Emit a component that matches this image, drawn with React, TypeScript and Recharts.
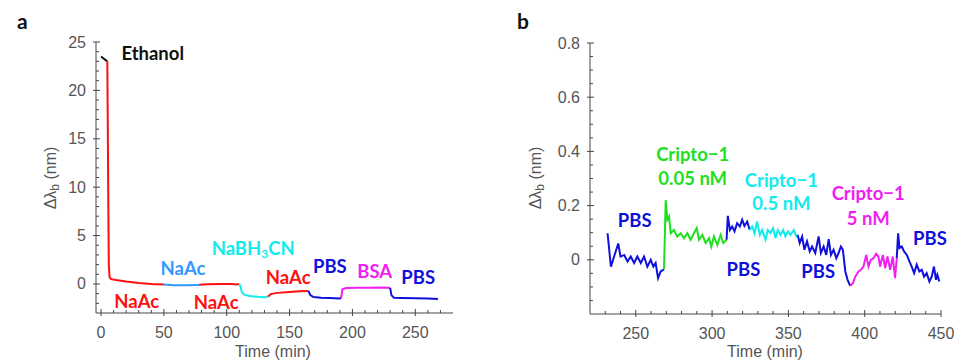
import React from 'react';
import { LineChart, Line, XAxis, YAxis, ReferenceDot } from 'recharts';

type Pt = { t: number; v: number };

// ---- panel a: functionalisation steps ----
const ethanol: Pt[] = [
  { t: 0, v: 23.5 }, { t: 2, v: 23.3 }, { t: 5, v: 23.0 },
];
const naAc1: Pt[] = [
  { t: 5, v: 23.0 }, { t: 5.4, v: 16 }, { t: 5.8, v: 8 }, { t: 6.2, v: 2 },
  { t: 6.8, v: 0.7 }, { t: 8, v: 0.5 }, { t: 12, v: 0.4 }, { t: 20, v: 0.25 },
  { t: 30, v: 0.1 }, { t: 40, v: 0.0 }, { t: 50, v: -0.05 },
];
const naAc2: Pt[] = [
  { t: 50, v: -0.05 }, { t: 58, v: -0.12 }, { t: 68, v: -0.13 }, { t: 78, v: -0.1 },
];
const naAc3: Pt[] = [
  { t: 78, v: -0.08 }, { t: 85, v: -0.02 }, { t: 95, v: 0.0 }, { t: 104, v: 0.0 },
  { t: 108, v: -0.06 }, { t: 110, v: 0.0 },
];
const naBH3CN: Pt[] = [
  { t: 110, v: 0.0 }, { t: 111, v: -0.3 }, { t: 112, v: -0.85 }, { t: 114, v: -1.1 },
  { t: 118, v: -1.25 }, { t: 125, v: -1.33 }, { t: 130, v: -1.36 }, { t: 133, v: -1.3 },
];
const naAc4: Pt[] = [
  { t: 133, v: -1.3 }, { t: 135, v: -1.05 }, { t: 140, v: -0.92 }, { t: 150, v: -0.82 },
  { t: 158, v: -0.76 }, { t: 165, v: -0.72 },
];
const pbsA1: Pt[] = [
  { t: 165, v: -0.72 }, { t: 166.5, v: -1.15 }, { t: 169, v: -1.35 }, { t: 175, v: -1.42 },
  { t: 182, v: -1.45 }, { t: 190, v: -1.5 }, { t: 191, v: -1.45 },
];
const bsa: Pt[] = [
  { t: 191, v: -1.45 }, { t: 192, v: -0.55 }, { t: 195, v: -0.42 }, { t: 205, v: -0.4 },
  { t: 215, v: -0.38 }, { t: 222, v: -0.36 }, { t: 230, v: -0.4 },
];
const pbsA2: Pt[] = [
  { t: 230, v: -0.4 }, { t: 231, v: -1.15 }, { t: 233, v: -1.42 }, { t: 240, v: -1.45 },
  { t: 250, v: -1.48 }, { t: 260, v: -1.5 }, { t: 268, v: -1.55 },
];

// ---- panel b: Cripto-1 detection ----
const pbsB1: Pt[] = [
  { t: 231.5, v: 0.098 }, { t: 233.7, v: -0.025 }, { t: 235.8, v: 0.012 }, { t: 238.5, v: 0.06 },
  { t: 240, v: 0.012 }, { t: 242.4, v: 0.018 }, { t: 244.6, v: -0.006 }, { t: 246.7, v: 0.012 },
  { t: 248.9, v: -0.012 }, { t: 251, v: 0.012 }, { t: 253.3, v: -0.012 }, { t: 255.4, v: 0.012 },
  { t: 257.6, v: -0.025 }, { t: 259.8, v: 0 }, { t: 261.5, v: -0.025 }, { t: 263, v: -0.012 },
  { t: 264.6, v: -0.068 }, { t: 266.3, v: -0.043 }, { t: 268.5, v: -0.035 },
];
const cripto005: Pt[] = [
  { t: 268.5, v: -0.035 }, { t: 269.6, v: 0.22 }, { t: 270.7, v: 0.148 }, { t: 271.8, v: 0.16 },
  { t: 272.9, v: 0.098 }, { t: 275, v: 0.11 }, { t: 277.2, v: 0.086 }, { t: 279.4, v: 0.098 },
  { t: 281.6, v: 0.08 }, { t: 283.8, v: 0.098 }, { t: 286, v: 0.074 }, { t: 288.1, v: 0.098 },
  { t: 289.9, v: 0.117 }, { t: 291.4, v: 0.074 }, { t: 293.6, v: 0.092 }, { t: 295.8, v: 0.062 },
  { t: 298, v: 0.08 }, { t: 299.5, v: 0.049 }, { t: 301.2, v: 0.086 }, { t: 303.4, v: 0.055 },
  { t: 305.6, v: 0.092 }, { t: 307.3, v: 0.062 }, { t: 309.5, v: 0.074 },
];
const pbsB2: Pt[] = [
  { t: 309.5, v: 0.074 }, { t: 310.3, v: 0.162 }, { t: 311.7, v: 0.11 }, { t: 313.2, v: 0.123 },
  { t: 314.7, v: 0.105 }, { t: 316.4, v: 0.135 }, { t: 318.2, v: 0.123 }, { t: 319.7, v: 0.148 },
  { t: 321.2, v: 0.125 }, { t: 323, v: 0.141 }, { t: 324.7, v: 0.11 },
];
const cripto05: Pt[] = [
  { t: 324.7, v: 0.11 }, { t: 326.3, v: 0.123 }, { t: 327.8, v: 0.098 }, { t: 329.5, v: 0.141 },
  { t: 331.3, v: 0.092 }, { t: 332.8, v: 0.11 }, { t: 335, v: 0.074 }, { t: 336.5, v: 0.11 },
  { t: 338.2, v: 0.098 }, { t: 340, v: 0.117 }, { t: 341.5, v: 0.08 }, { t: 343, v: 0.11 },
  { t: 344.8, v: 0.092 }, { t: 346.5, v: 0.11 }, { t: 348, v: 0.086 }, { t: 349.6, v: 0.105 },
  { t: 351.3, v: 0.092 }, { t: 353.5, v: 0.11 }, { t: 355.2, v: 0.086 }, { t: 356.1, v: 0.092 },
];
const pbsB3: Pt[] = [
  { t: 356.1, v: 0.092 }, { t: 357.4, v: 0.062 }, { t: 359, v: 0.086 }, { t: 360.5, v: 0.037 },
  { t: 362.2, v: 0.068 }, { t: 364, v: 0.031 }, { t: 365.5, v: 0.049 }, { t: 367.6, v: 0.025 },
  { t: 369.8, v: 0.086 }, { t: 371.3, v: 0.025 }, { t: 373.1, v: 0.049 }, { t: 374.8, v: 0.018 },
  { t: 376.4, v: 0.076 }, { t: 377.9, v: 0.018 }, { t: 379.6, v: 0.037 }, { t: 381.4, v: 0.006 },
  { t: 382.9, v: 0.025 }, { t: 384.4, v: 0.049 }, { t: 385.7, v: 0.037 }, { t: 387.3, v: -0.043 },
  { t: 388.8, v: -0.074 }, { t: 390.5, v: -0.096 },
];
const cripto5: Pt[] = [
  { t: 390.5, v: -0.096 }, { t: 392.3, v: -0.086 }, { t: 393.8, v: -0.062 }, { t: 396, v: -0.043 },
  { t: 397.5, v: -0.037 }, { t: 399.2, v: -0.025 }, { t: 401, v: 0.018 }, { t: 402.5, v: -0.025 },
  { t: 404, v: 0 }, { t: 405.8, v: 0.006 }, { t: 407.5, v: 0.022 }, { t: 409, v: 0.012 },
  { t: 410.1, v: -0.025 }, { t: 411.9, v: 0.018 }, { t: 413.4, v: -0.031 }, { t: 414.9, v: 0.012 },
  { t: 416.7, v: -0.037 }, { t: 418.4, v: 0.012 }, { t: 419.9, v: -0.068 }, { t: 421, v: 0.006 },
];
const pbsB4: Pt[] = [
  { t: 421, v: 0.006 }, { t: 421.9, v: 0.098 }, { t: 422.8, v: 0.043 }, { t: 424.3, v: 0.049 },
  { t: 425.8, v: 0.031 }, { t: 427.6, v: 0.018 }, { t: 429.3, v: -0.006 }, { t: 430.8, v: -0.025 },
  { t: 432.4, v: -0.049 }, { t: 434.1, v: -0.018 }, { t: 435.8, v: -0.043 }, { t: 437.4, v: -0.037 },
  { t: 438.9, v: -0.062 }, { t: 440.6, v: -0.049 }, { t: 442.4, v: -0.08 }, { t: 443.9, v: -0.062 },
  { t: 445.4, v: -0.025 }, { t: 446.7, v: -0.074 }, { t: 447.6, v: -0.055 }, { t: 448.9, v: -0.08 },
];

// ---- ticks ----
const aXTicks = [0, 10, 20, 30, 40, 50, 60, 70, 80, 90, 100, 110, 120, 130, 140, 150, 160, 170, 180, 190, 200, 210, 220, 230, 240, 250, 260, 270];
const aXMajor = [0, 50, 100, 150, 200, 250];
const aYTicks = [-2, -1, 0, 1, 2, 3, 4, 5, 6, 7, 8, 9, 10, 11, 12, 13, 14, 15, 16, 17, 18, 19, 20, 21, 22, 23, 24, 25];
const aYMajor = [0, 5, 10, 15, 20, 25];
const bXTicks = [230, 240, 250, 260, 270, 280, 290, 300, 310, 320, 330, 340, 350, 360, 370, 380, 390, 400, 410, 420, 430, 440, 450];
const bXMajor = [250, 300, 350, 400, 450];
const bYTicks = [-0.15, -0.1, -0.05, 0, 0.05, 0.1, 0.15, 0.2, 0.25, 0.3, 0.35, 0.4, 0.45, 0.5, 0.55, 0.6, 0.65, 0.7, 0.75, 0.8];
const bYMajor = [-0.2, 0, 0.2, 0.4, 0.6, 0.8];

const RED = '#ff1010';
const LBLUE = '#3399ff';
const CYAN = '#10ecec';
const BLUE = '#1010dd';
const MAGENTA = '#f020f0';
const GREEN = '#1ee01e';
const AXIS = '#444';
const TICK_TEXT = '#555';

type Note = { t: number; v: number; text: string; color: string; anchor?: 'start' | 'middle' };

const notesA: Note[] = [
  { t: 16.2, v: 23.9, text: 'Ethanol', color: '#111' },
  { t: 10.6, v: -1.76, text: 'NaAc', color: RED },
  { t: 47.3, v: 1.65, text: 'NaAc', color: LBLUE },
  { t: 73.7, v: -1.86, text: 'NaAc', color: RED },
  { t: 88, v: 3.72, text: 'NaBH3CN', color: CYAN },
  { t: 131, v: 0.72, text: 'NaAc', color: RED },
  { t: 168.6, v: 1.86, text: 'PBS', color: BLUE },
  { t: 203.8, v: 1.34, text: 'BSA', color: MAGENTA },
  { t: 238.9, v: 0.72, text: 'PBS', color: BLUE },
];

const notesB: Note[] = [
  { t: 238.2, v: 0.148, text: 'PBS', color: BLUE },
  { t: 287.3, v: 0.391, text: 'Cripto\u22121', color: GREEN, anchor: 'middle' },
  { t: 287.3, v: 0.303, text: '0.05 nM', color: GREEN, anchor: 'middle' },
  { t: 345.4, v: 0.295, text: 'Cripto\u22121', color: CYAN, anchor: 'middle' },
  { t: 345.4, v: 0.21, text: '0.5 nM', color: CYAN, anchor: 'middle' },
  { t: 402.3, v: 0.247, text: 'Cripto\u22121', color: MAGENTA, anchor: 'middle' },
  { t: 402.3, v: 0.155, text: '5 nM', color: MAGENTA, anchor: 'middle' },
  { t: 309.5, v: -0.033, text: 'PBS', color: BLUE },
  { t: 358.5, v: -0.041, text: 'PBS', color: BLUE },
  { t: 431.7, v: 0.081, text: 'PBS', color: BLUE },
];

const isMajor = (list: number[], v: number) => list.some((m) => Math.abs(m - v) < 1e-6);
const fmt = (v: number) => String(Math.round(v * 10) / 10);

const YTick = (props: any) => {
  const { x, y, payload, majors } = props;
  const major = isMajor(majors, payload.value);
  return (
    <g>
      <line x1={major ? x - 3 : x} x2={x + (major ? 4 : 3)} y1={y} y2={y} stroke={AXIS} strokeWidth={1} />
      {major && (
        <text x={x - 10} y={y} textAnchor="end" dominantBaseline="central" fill={TICK_TEXT}
          fontSize={16} fontFamily="'Liberation Sans', Arial, sans-serif">
          {fmt(payload.value)}
        </text>
      )}
    </g>
  );
};

const XTick = (props: any) => {
  const { x, y, payload, majors } = props;
  const major = isMajor(majors, payload.value);
  return (
    <g>
      <line x1={x} x2={x} y1={y - (major ? 4 : 3)} y2={major ? y + 3 : y} stroke={AXIS} strokeWidth={1} />
      {major && (
        <text x={x} y={y + 19} textAnchor="middle" dominantBaseline="central" fill={TICK_TEXT}
          fontSize={16} fontFamily="'Liberation Sans', Arial, sans-serif">
          {payload.value}
        </text>
      )}
    </g>
  );
};

const noteShape = (n: Note) => (p: any) => {
  const common = {
    x: p.cx, y: p.cy, fill: n.color, fontSize: 18.5, fontWeight: 700,
    fontFamily: 'Lato, sans-serif', dominantBaseline: 'central' as const,
    textAnchor: n.anchor || 'start',
  };
  if (n.text === 'NaBH3CN') {
    return (
      <text {...common}>
        NaBH<tspan dy={5} fontSize={12}>3</tspan><tspan dy={-5}>CN</tspan>
      </text>
    );
  }
  return <text {...common}>{n.text}</text>;
};

const series = (key: string, data: Pt[], color: string) => (
  <Line key={key} data={data} dataKey="v" type="linear" stroke={color} strokeWidth={2}
    dot={false} activeDot={false} isAnimationActive={false} />
);

const AxisTitles = ({ cx, cy, tx, ty }: { cx: number; cy: number; tx: number; ty: number }) => (
  <g fill={TICK_TEXT} fontSize={16} fontFamily="'Liberation Sans', Arial, sans-serif">
    <text x={tx} y={ty} textAnchor="middle" dominantBaseline="central">Time (min)</text>
    <text transform={`translate(${cx},${cy}) rotate(-90)`} textAnchor="middle" dominantBaseline="central">
      {'\u0394\u03bb'}<tspan dy={5} fontSize={12}>b</tspan><tspan dy={-5}> (nm)</tspan>
    </text>
  </g>
);

export default function App() {
  return (
    <div style={{ position: 'absolute', left: 0, top: 0, width: 955, height: 360, background: '#fff' }}>
      <div style={{ position: 'absolute', left: 0, top: 0 }}>
        <LineChart width={480} height={360} margin={{ top: 42, right: 27, left: 0, bottom: 0 }}>
          <XAxis type="number" dataKey="t" domain={[-4, 280]} allowDataOverflow ticks={aXTicks} interval={0}
            height={47} tickSize={0} tickMargin={0} tickLine={false} stroke={AXIS}
            tick={(p: any) => <XTick {...p} majors={aXMajor} />} />
          <YAxis type="number" domain={[-3, 25]} allowDataOverflow ticks={aYTicks} interval={0}
            width={96} tickSize={0} tickMargin={0} tickLine={false} stroke={AXIS}
            tick={(p: any) => <YTick {...p} majors={aYMajor} />} />
          {series('eth', ethanol, '#111')}
          {series('n1', naAc1, RED)}
          {series('n2', naAc2, LBLUE)}
          {series('n3', naAc3, RED)}
          {series('bh', naBH3CN, CYAN)}
          {series('n4', naAc4, RED)}
          {series('p1', pbsA1, BLUE)}
          {series('bsa', bsa, MAGENTA)}
          {series('p2', pbsA2, BLUE)}
          {notesA.map((n, i) => (
            <ReferenceDot key={`na${i}`} x={n.t} y={n.v} r={0} ifOverflow="visible" shape={noteShape(n)} />
          ))}
        </LineChart>
      </div>
      <div style={{ position: 'absolute', left: 480, top: 0 }}>
        <LineChart width={475} height={360} margin={{ top: 43, right: 14, left: 0, bottom: 0 }}>
          <XAxis type="number" dataKey="t" domain={[220, 450]} allowDataOverflow ticks={bXTicks} interval={0}
            height={46} tickSize={0} tickMargin={0} tickLine={false} stroke={AXIS}
            tick={(p: any) => <XTick {...p} majors={bXMajor} />} />
          <YAxis type="number" domain={[-0.2, 0.8]} allowDataOverflow ticks={bYTicks} interval={0}
            width={110} tickSize={0} tickMargin={0} tickLine={false} stroke={AXIS}
            tick={(p: any) => <YTick {...p} majors={bYMajor} />} />
          {series('b1', pbsB1, BLUE)}
          {series('c1', cripto005, GREEN)}
          {series('b2', pbsB2, BLUE)}
          {series('c2', cripto05, CYAN)}
          {series('b3', pbsB3, BLUE)}
          {series('c3', cripto5, MAGENTA)}
          {series('b4', pbsB4, BLUE)}
          {notesB.map((n, i) => (
            <ReferenceDot key={`nb${i}`} x={n.t} y={n.v} r={0} ifOverflow="visible" shape={noteShape(n)} />
          ))}
        </LineChart>
      </div>
      <svg width={955} height={360} style={{ position: 'absolute', left: 0, top: 0, pointerEvents: 'none' }}>
        <text x={17} y={20} dominantBaseline="central" fontSize={21} fontWeight={700} fontFamily="Lato, sans-serif" fill="#111">a</text>
        <text x={517} y={20} dominantBaseline="central" fontSize={21} fontWeight={700} fontFamily="Lato, sans-serif" fill="#111">b</text>
        <AxisTitles cx={50} cy={178} tx={273} ty={351} />
        <AxisTitles cx={535} cy={178} tx={765} ty={351} />
      </svg>
    </div>
  );
}
